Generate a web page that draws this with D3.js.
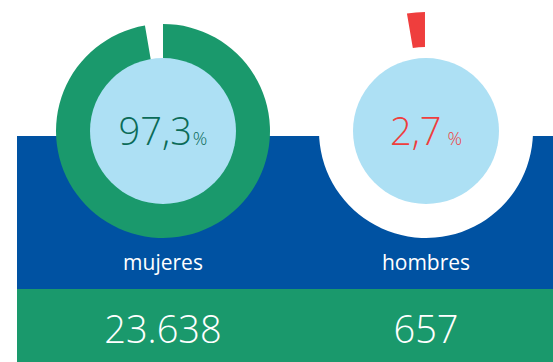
<!DOCTYPE html>
<html>
<head>
<meta charset="utf-8">
<script src="https://cdn.jsdelivr.net/npm/d3@7"></script>
<style>
  html, body { margin: 0; padding: 0; background: #fff; }
  svg { display: block; }
  text { font-family: "Open Sans", sans-serif; }
</style>
</head>
<body>
<svg id="chart" width="553" height="362"></svg>
<script>
// Share of participants by sex
const categories = ["mujeres", "hombres"];
const percents = [97.3, 2.7];
const counts = [23638, 657];

const W = 553, H = 362;
const colors = {
  band: "#0052a2",
  footer: "#1a996c",
  inner: "#ade0f4",
  women: "#1a996c",
  men: "#ef3e3d",
  womenText: "#0b6b57",
  menText: "#ef3e3d"
};

const es = d3.formatLocale({ decimal: ",", thousands: ".", grouping: [3], currency: ["", "€"] });
const fmtPct = es.format(".1f");
const fmtInt = es.format(",d");

const svg = d3.select("#chart");

// background bands
svg.append("rect").attr("x", 17).attr("y", 136).attr("width", W - 17).attr("height", 153).attr("fill", colors.band);
svg.append("rect").attr("x", 17).attr("y", 289).attr("width", W - 17).attr("height", H - 289).attr("fill", colors.footer);

const x = d3.scalePoint().domain(categories).range([163, 426]);
const cy = 131;
const rOuter = 107, rInner = 73;

const pie = d3.pie().sort(null).value(d => d)(percents);
const arc = d3.arc().innerRadius(rInner - 1).outerRadius(rOuter);

categories.forEach((cat, i) => {
  const g = svg.append("g").attr("transform", `translate(${x(cat)},${cy})`);
  pie.forEach((slice, j) => {
    let fill;
    if (i === 0) fill = j === 0 ? colors.women : "none";
    else fill = j === 1 ? colors.men : "#ffffff";
    if (fill === "none") return;
    const p = g.append("path").attr("d", arc(slice)).attr("fill", fill);
    // the highlighted share is pulled out of the ring
    if (i === 1 && j === 1) {
      const mid = (slice.startAngle + slice.endAngle) / 2;
      const off = 12;
      p.attr("transform", `translate(${Math.sin(mid) * off},${-Math.cos(mid) * off})`);
    }
  });
  g.append("circle").attr("r", rInner).attr("fill", colors.inner);

  const t = g.append("text")
    .attr("y", 14)
    .attr("text-anchor", "middle")
    .attr("font-weight", 300)
    .attr("fill", i === 0 ? colors.womenText : colors.menText);
  t.append("tspan").attr("font-size", 38).text(fmtPct(percents[i]));
  t.append("tspan").attr("font-size", 18).attr("dx", i === 0 ? 1 : 6).text("%");

  svg.append("text")
    .attr("x", x(cat)).attr("y", 270)
    .attr("text-anchor", "middle")
    .attr("fill", "#ffffff")
    .attr("font-size", 21)
    .text(cat);

  svg.append("text")
    .attr("x", x(cat)).attr("y", 343)
    .attr("text-anchor", "middle")
    .attr("fill", "#ffffff")
    .attr("font-weight", 300)
    .attr("font-size", 38)
    .text(fmtInt(counts[i]));
});
</script>
</body>
</html>
